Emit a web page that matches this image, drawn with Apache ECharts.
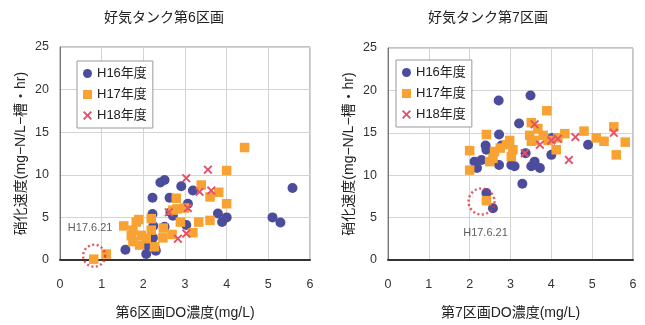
<!DOCTYPE html>
<html><head><meta charset="utf-8">
<script src="https://cdn.jsdelivr.net/npm/echarts@6/dist/echarts.min.js"></script>
<style>html,body{margin:0;padding:0;background:#fff}#c{width:645px;height:325px}</style>
</head><body><div id="c"></div>
<script>
const FONT = '"Liberation Sans","Noto Sans CJK JP",sans-serif';
const titles = ['好気タンク第6区画', '好気タンク第7区画'];
const xNames = ['第6区画DO濃度(mg/L)', '第7区画DO濃度(mg/L)'];
const yName = '硝化速度(mg−N/L−槽・hr)';
const seriesNames = ['H16年度', 'H17年度', 'H18年度'];
const xTicks = [0, 1, 2, 3, 4, 5, 6];
const yTicks = [0, 5, 10, 15, 20, 25];
const annotLabel = 'H17.6.21';

// Left chart (section 6): [DO, nitrification rate]
const h16_s6 = [[1.57,1.2],[2.07,0.7],[2.1,1.75],[2.23,2.6],[2.28,1.4],[2.3,1.1],[2.22,5.4],[2.22,7.3],[2.41,9.1],[2.51,9.4],[2.24,4.0],[2.51,3.9],[2.63,7.3],[2.65,5.6],[2.71,5.2],[2.91,8.65],[3.03,4.1],[3.07,6.6],[3.19,8.15],[3.79,5.45],[3.89,4.45],[4.0,5.0],[5.1,5.0],[5.29,4.4],[5.58,8.45]];
const h17_s6 = [[0.81,0.1],[1.11,0.7],[1.53,4.0],[1.71,2.85],[1.75,2.15],[1.75,3.5],[1.83,4.45],[1.89,4.75],[1.91,1.75],[1.95,2.9],[2.07,2.5],[2.19,4.85],[2.19,3.5],[2.27,1.55],[2.47,2.6],[2.48,3.75],[2.69,3.0],[2.71,5.85],[2.79,7.25],[2.81,6.0],[2.89,4.45],[2.99,6.1],[3.19,3.2],[3.33,4.45],[3.39,8.8],[3.6,4.65],[3.6,7.4],[3.81,7.95],[4.0,6.6],[4.0,10.5],[4.43,13.2]];
const h18_s6 = [[2.61,5.6],[2.83,2.5],[3.03,3.1],[3.03,9.6],[3.07,6.1],[3.35,8.0],[3.55,10.6],[3.63,8.15]];
const annot_s6 = [[0.82, 0.5]];

// Right chart (section 7)
const h16_s7 = [[2.12,11.6],[2.18,10.85],[2.29,11.8],[2.39,13.5],[2.41,13.0],[2.41,7.9],[2.57,6.1],[2.71,18.8],[2.72,14.8],[2.72,11.2],[2.78,13.5],[3.02,11.2],[3.1,11.05],[3.21,16.1],[3.29,9.0],[3.37,12.6],[3.49,19.4],[3.51,11.05],[3.59,11.6],[3.72,10.85],[4.0,12.4],[4.02,14.4],[4.9,13.6]];
const h17_s7 = [[2.0,10.6],[2.0,12.9],[2.41,14.8],[2.41,7.0],[2.49,11.6],[2.57,12.0],[2.61,12.8],[2.75,13.2],[2.9,13.6],[2.98,14.1],[3.02,12.2],[3.06,13.0],[3.47,14.7],[3.51,14.0],[3.51,16.2],[3.59,14.1],[3.67,15.5],[3.8,14.7],[3.89,17.6],[3.92,14.1],[4.12,13.0],[4.16,14.4],[4.33,14.9],[4.8,15.2],[5.1,14.4],[5.29,14.0],[5.53,15.7],[5.59,12.4],[5.81,13.9]];
const h18_s7 = [[3.35,12.6],[3.59,16.0],[3.72,13.6],[4.0,14.1],[4.16,14.3],[4.43,11.8],[4.59,14.5],[5.53,15.0]];
const annot_s7 = [[2.29, 6.9]];

const BLUE = '#4b4c9c', ORANGE = '#f7a233', RED = '#e4506a';
const XPATH = 'path://M0,1.5 L1.5,0 L5,3.5 L8.5,0 L10,1.5 L6.5,5 L10,8.5 L8.5,10 L5,6.5 L1.5,10 L0,8.5 L3.5,5 Z';

const grids = [
  {left: 60, top: 47, width: 250, height: 215},
  {left: 388, top: 48, width: 245, height: 215}
];
function xAxis(i) {
  return {
    type: 'value', gridIndex: i, min: xTicks[0], max: xTicks[xTicks.length-1], interval: 1,
    name: xNames[i], nameLocation: 'middle', nameGap: 46,
    nameTextStyle: {fontFamily: FONT, fontSize: 14, color: '#222'},
    axisLine: {show: true, onZero: false, lineStyle: {color: '#333', width: 2}},
    axisTick: {show: false},
    axisLabel: {fontFamily: FONT, fontSize: 12.5, color: '#333', margin: 18},
    splitLine: {show: true, lineStyle: {color: '#d4d4d4', width: 1}}
  };
}
function yAxis(i) {
  return {
    type: 'value', gridIndex: i, min: yTicks[0], max: yTicks[yTicks.length-1], interval: 5,
    name: yName, nameLocation: 'middle', nameGap: 32, nameRotate: 90,
    nameTextStyle: {fontFamily: FONT, fontSize: 14, color: '#222'},
    axisLine: {show: true, lineStyle: {color: '#777', width: 1}},
    axisTick: {show: false},
    axisLabel: {fontFamily: FONT, fontSize: 12.5, color: '#333', margin: 11},
    splitLine: {show: true, lineStyle: {color: '#d4d4d4', width: 1}}
  };
}
function pts(name, data, i, symbol, size, color) {
  return {name, type: 'scatter', xAxisIndex: i, yAxisIndex: i, data, symbol, symbolSize: size,
    itemStyle: {color, opacity: 1}, z: 3};
}
function annot(data, i, pos) {
  return {name: 'annot' + i, type: 'scatter', xAxisIndex: i, yAxisIndex: i, data,
    symbol: 'circle', symbolSize: i === 0 ? 22 : 26, z: 5, silent: true,
    itemStyle: {color: 'rgba(0,0,0,0)', borderColor: '#e0303c', borderWidth: 2.5, borderType: [2, 2.5]},
    label: {show: true, formatter: annotLabel, position: pos, distance: i === 0 ? 10 : 12,
      offset: i === 0 ? [-4, 0] : [4, 0],
      fontFamily: FONT, fontSize: 11, color: '#333'}};
}
function legend(left, top) {
  return {data: seriesNames, orient: 'vertical', left, top, padding: [6, 6, 6, 6], itemGap: 8,
    itemWidth: 9, itemHeight: 9, backgroundColor: '#fff', borderColor: '#999', borderWidth: 1,
    borderRadius: 0, textStyle: {fontFamily: FONT, fontSize: 13, color: '#222'}, selectedMode: false};
}
const option = {
  animation: false,
  backgroundColor: '#fff',
  title: [
    {text: titles[0], left: 159, top: 6, textAlign: 'center', textStyle: {fontFamily: FONT, fontSize: 14, fontWeight: 'normal', color: '#222'}},
    {text: titles[1], left: 483, top: 6, textAlign: 'center', textStyle: {fontFamily: FONT, fontSize: 14, fontWeight: 'normal', color: '#222'}}
  ],
  legend: [legend(77, 61), legend(396, 60)],
  grid: grids.map(g => Object.assign({show: true, borderColor: '#888', borderWidth: 1, backgroundColor: '#fff'}, g)),
  xAxis: [xAxis(0), xAxis(1)],
  yAxis: [yAxis(0), yAxis(1)],
  series: [
    pts(seriesNames[0], h16_s6, 0, 'circle', 10, BLUE),
    pts(seriesNames[1], h17_s6, 0, 'rect', 9.5, ORANGE),
    pts(seriesNames[2], h18_s6, 0, XPATH, 9, RED),
    annot(annot_s6, 0, 'top'),
    pts(seriesNames[0], h16_s7, 1, 'circle', 10, BLUE),
    pts(seriesNames[1], h17_s7, 1, 'rect', 9.5, ORANGE),
    pts(seriesNames[2], h18_s7, 1, XPATH, 9, RED),
    annot(annot_s7, 1, 'bottom')
  ]
};
echarts.init(document.getElementById('c'), null, {renderer: 'canvas'}).setOption(option);
</script></body></html>
